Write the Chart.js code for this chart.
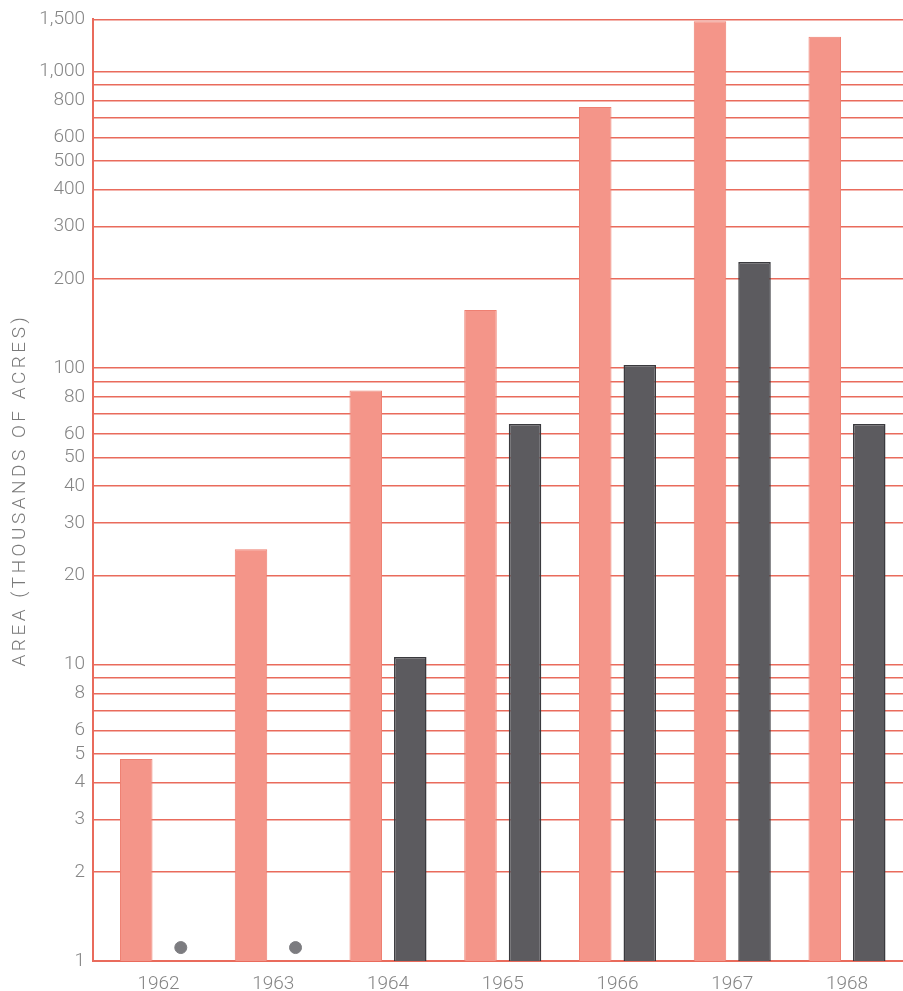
<!DOCTYPE html>
<html>
<head>
<meta charset="utf-8">
<script src="https://cdn.jsdelivr.net/npm/chart.js@4/dist/chart.umd.min.js"></script>
<style>
  html, body { margin: 0; padding: 0; background: #ffffff; }
  #wrap { width: 903px; height: 991px; position: relative; }
</style>
</head>
<body>
<div id="wrap"><canvas id="chart"></canvas></div>
<script>
// Years along the horizontal axis
const years = ['1962', '1963', '1964', '1965', '1966', '1967', '1968'];

// Area, thousands of acres
const lightSeries = [4.8, 24.5, 84, 157, 760, 1480, 1310];
const darkSeries  = [null, null, 10.6, 64.8, 102.5, 228, 64.8];

// Years where the dark series is only marked by a dot near the baseline
const dotYears  = ['1962', '1963'];
const dotValues = [1.11, 1.11];

// Log-axis gridline values and the ones that carry a label
const gridValues = [1, 2, 3, 4, 5, 6, 7, 8, 9,
                    10, 20, 30, 40, 50, 60, 70, 80, 90,
                    100, 200, 300, 400, 500, 600, 700, 800, 900,
                    1000, 1500];
const labelledValues = [1, 2, 3, 4, 5, 6, 8, 10, 20, 30, 40, 50, 60, 80,
                        100, 200, 300, 400, 500, 600, 800, 1000, 1500];

const CAT_PCT = 0.776;
const BAR_PCT = 0.73;
const RED = '#e96b5c';
const FONT = 'Roboto, "Liberation Sans", sans-serif';

const idx = (y) => years.indexOf(y);

new Chart(document.getElementById('chart'), {
  data: {
    datasets: [
      {
        type: 'bar',
        data: lightSeries.map((v, i) => ({ x: i, y: v })),
        backgroundColor: '#f49589',
        borderColor: '#ee8072',
        borderWidth: 1,
        categoryPercentage: CAT_PCT,
        barPercentage: BAR_PCT
      },
      {
        type: 'bar',
        data: darkSeries.map((v, i) => ({ x: i, y: v })),
        backgroundColor: '#5c5b5f',
        borderColor: '#3a3a3e',
        borderWidth: 1.5,
        categoryPercentage: CAT_PCT,
        barPercentage: BAR_PCT
      },
      {
        // dots sit where the second bar of each group would be
        type: 'scatter',
        data: dotYears.map((y, k) => ({ x: idx(y) + CAT_PCT / 4, y: dotValues[k] })),
        backgroundColor: '#7c7c80',
        borderColor: '#7c7c80',
        pointRadius: 6,
        pointHoverRadius: 6
      }
    ]
  },
  options: {
    responsive: true,
    maintainAspectRatio: false,
    animation: false,
    layout: { autoPadding: false, padding: { top: 19, right: 0, bottom: 0, left: 0 } },
    plugins: { legend: { display: false }, tooltip: { enabled: false } },
    scales: {
      x: {
        type: 'linear',
        bounds: 'data',
        offset: false,
        min: -0.571,
        max: 6.488,
        afterBuildTicks: (s) => { s.ticks = years.map((_, i) => ({ value: i })); },
        grid: { display: false, offset: false, drawTicks: false, tickLength: 0 },
        border: { display: true, color: RED, width: 2 },
        afterFit: (s) => { s.height = 30; },
        ticks: {
          autoSkip: false,
          maxRotation: 0,
          padding: 12,
          color: '#858585',
          font: { family: FONT, size: 19, weight: '300' },
          callback: (v) => (years[v] !== undefined ? years[v] : '')
        }
      },
      y: {
        type: 'logarithmic',
        min: 1,
        max: 1500,
        afterBuildTicks: (s) => { s.ticks = gridValues.map((v) => ({ value: v })); },
        afterFit: (s) => { s.width = 93; },
        beforeUpdate: (s) => {
          // the axis title is set with wide letter tracking
          if (!s._tracked) {
            const drawTitle = s.drawTitle.bind(s);
            s.drawTitle = function () {
              const ctx = this.ctx;
              ctx.save();
              ctx.letterSpacing = '3.5px';
              drawTitle();
              ctx.restore();
            };
            s._tracked = true;
          }
        },
        grid: { color: RED, lineWidth: 1.5, drawTicks: false },
        border: { display: true, color: RED, width: 2 },
        ticks: {
          autoSkip: false,
          padding: 8,
          color: '#858585',
          font: { family: FONT, size: 19, weight: '300' },
          callback: (v) => (labelledValues.includes(v) ? v.toLocaleString('en-US') : '')
        },
        title: {
          display: true,
          text: 'AREA (THOUSANDS OF ACRES)',
          color: '#7a7a7a',
          font: { family: FONT, size: 19, weight: '300' },
          padding: { top: 9, bottom: 0 }
        }
      }
    }
  }
});
</script>
</body>
</html>
